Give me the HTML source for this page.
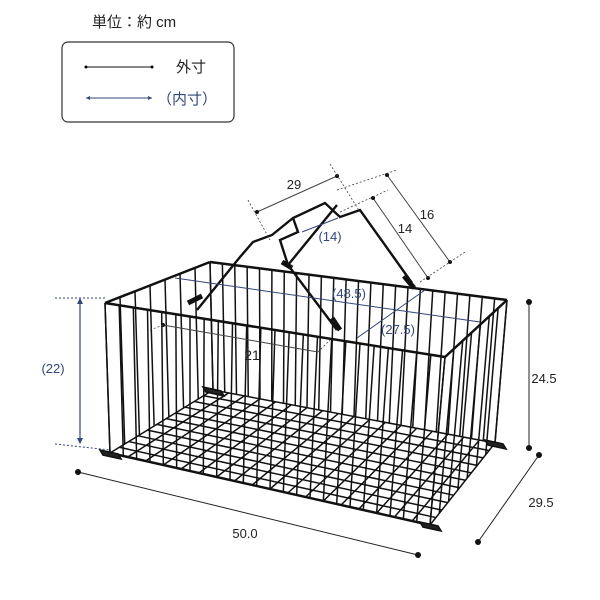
<!DOCTYPE html>
<html><head><meta charset="utf-8"><style>
html,body{margin:0;padding:0;background:#fff;width:600px;height:600px;overflow:hidden}
svg{display:block}
text{font-family:"Liberation Sans","Noto Sans CJK JP",sans-serif}
</style></head><body>
<svg id="s" width="600" height="600" viewBox="0 0 600 600" xmlns="http://www.w3.org/2000/svg">
<text x="92" y="27" font-size="15" fill="#222">単位：約 cm</text>
<rect x="62" y="42" width="172" height="80" rx="6" fill="none" stroke="#333" stroke-width="1.2"/>
<line x1="86" y1="67" x2="152" y2="67" stroke="#111" stroke-width="1"/>
<circle cx="86" cy="67" r="1.5"/><circle cx="152" cy="67" r="1.5"/>
<text x="176" y="72" font-size="15" fill="#222">外寸</text>
<line x1="86" y1="98" x2="152" y2="98" stroke="#33467a" stroke-width="1"/>
<path d="M86 98l4-2v4z M152 98l-4-2v4z" fill="#33467a"/>
<text x="157" y="104" font-size="15" fill="#33467a">（内寸）</text>
<g id="g" stroke="#111" fill="none" stroke-width="1.6"></g>
<g id="d"></g>
</svg>
<script>
var g=document.getElementById('g'),d=document.getElementById('d'),NS='http://www.w3.org/2000/svg';
function L(p,a,b,c,e,col,w,dash){var l=document.createElementNS(NS,'line');l.setAttribute('x1',a);l.setAttribute('y1',b);l.setAttribute('x2',c);l.setAttribute('y2',e);if(col)l.setAttribute('stroke',col);if(w)l.setAttribute('stroke-width',w);if(dash)l.setAttribute('stroke-dasharray',dash);p.appendChild(l);}
function lerp(a,b,t){return [a[0]+(b[0]-a[0])*t,a[1]+(b[1]-a[1])*t];}
var FLT=[105,303],FLB=[110,453],FRT=[445,357],FRB=[430,525],BLT=[210,262],BLB=[213,390],BRT=[507,300],BRB=[495,443];
function wall(t1,t2,b1,b2,n){for(var i=0;i<=n;i++){var t=i/n,a=lerp(t1,t2,t),b=lerp(b1,b2,t);L(g,a[0],a[1],b[0],b[1],null,1.5);}L(g,t1[0],t1[1],t2[0],t2[1],null,2.5);}
wall(BLT,BRT,BLB,BRB,24);
wall(BLT,FLT,BLB,FLB,7);
wall(BRT,FRT,BRB,FRB,7);
for(var i=0;i<=18;i++){var t=i/18,a=lerp(FLB,FRB,t),b=lerp(BLB,BRB,t);L(g,a[0],a[1],b[0],b[1],null,1.5);}
for(var i=0;i<=11;i++){var t=i/11,a=lerp(FLB,BLB,t),b=lerp(FRB,BRB,t);L(g,a[0],a[1],b[0],b[1],null,1.5);}
wall(FLT,FRT,FLB,FRB,24);
L(g,FLB[0],FLB[1],FRB[0],FRB[1],null,2.5);
[FLB,FRB,BRB,BLB].forEach(function(p){var r=document.createElementNS(NS,'path');r.setAttribute('d','M'+(p[0]-10)+' '+(p[1]-3)+'l18 4l3 5l-18 -4z');r.setAttribute('fill','#222');g.appendChild(r);});
function P(pts,w){var p=document.createElementNS(NS,'polyline');p.setAttribute('points',pts);p.setAttribute('stroke-width',w||2.4);g.appendChild(p);}
P('197,310 240,257 253,242 272,235 293,218 325,203 340,217 360,210 412,283');
P('293,218 298,232 280,240 288,265 337,330');
P('337,205 288,265');
P('188,303 202,296',5);P('404,276 414,288',5);P('282,262 292,268',5);P('332,318 340,330',5);
var K='#444',B='#33467a';
function dot(x,y,r){var c=document.createElementNS(NS,'circle');c.setAttribute('cx',x);c.setAttribute('cy',y);c.setAttribute('r',r||2);c.setAttribute('fill','#111');d.appendChild(c);}
function T(x,y,s,col,fs){var t=document.createElementNS(NS,'text');t.setAttribute('x',x);t.setAttribute('y',y);t.setAttribute('fill',col);t.setAttribute('font-size',fs||13);t.setAttribute('text-anchor','middle');t.textContent=s;d.appendChild(t);}
L(d,78,472,418,555,'#222',1);dot(78,472,3);dot(418,555,3);T(245,538,'50.0','#222');
L(d,478,542,539,455,'#222',1);dot(478,542,3);dot(539,455,3);T(541,507,'29.5','#222');
L(d,529,302,529,448,'#222',1);dot(529,302,3);dot(529,448,3);T(544,383,'24.5','#222');
L(d,80,299,80,443,B,1.2);L(d,55,298,105,298,B,1,'2,2');L(d,55,444,110,450,B,1,'2,2');
d.insertAdjacentHTML('beforeend','<path d="M80 298l-3 6h6z M80 444l-3-6h6z" fill="#33467a"/>');
T(53,373,'(22)',B);
L(d,257,212,337,176,K,1);dot(257,212);dot(337,176);T(294,189,'29','#222');
L(d,248,200,270,240,K,0.8,'2,2');L(d,330,164,360,212,K,0.8,'2,2');
L(d,387,175,450,262,K,1);dot(387,175);dot(450,262);T(427,219,'16','#222');
L(d,373,198,428,278,K,1);dot(373,198);dot(428,278);T(405,233,'14','#222');
L(d,337,190,397,170,K,0.8,'2,2');L(d,340,212,388,190,K,0.8,'2,2');L(d,420,282,465,252,K,0.8,'2,2');
L(d,302,232,338,218,B,1);T(330,241,'(14)',B);
L(d,175,278,480,322,B,1);T(349,298,'(48.5)',B);
L(d,357,338,425,290,B,1);T(398,334,'(27.5)',B);
L(d,163,325,318,352,K,1);dot(163,325);L(d,150,330,163,325,K,0.8,'2,2');L(d,318,352,330,340,K,0.8,'2,2');T(252,360,'21','#222',14);
</script>
</body></html>
